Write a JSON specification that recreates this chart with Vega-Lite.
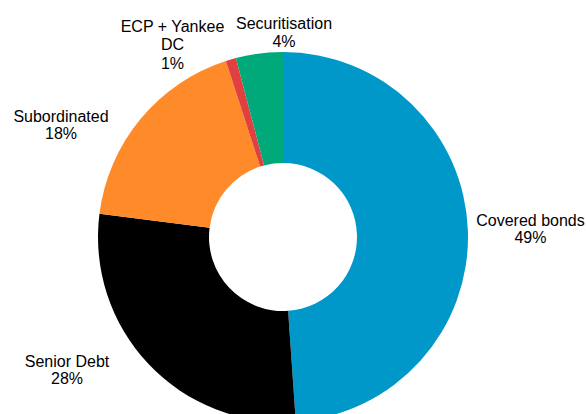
{
  "$schema": "https://vega.github.io/schema/vega-lite/v6.json",
  "autosize": {"type": "none"},
  "padding": {"left": 0, "top": 0, "right": 20, "bottom": 0},
  "width": 566,
  "height": 474,
  "background": "#ffffff",
  "view": {"stroke": null},
  "config": {"text": {"font": "Liberation Sans", "fontSize": 16, "color": "#000000"}},
  "data": {
    "values": [
      {"category": "Covered bonds", "value": 48.9, "order": 1, "label": ["Covered bonds", "49%"]},
      {"category": "Senior Debt", "value": 28.1, "order": 2, "label": ["Senior Debt", "28%"]},
      {"category": "Subordinated", "value": 18.0, "order": 3, "label": ["Subordinated", "18%"]},
      {"category": "ECP + Yankee DC", "value": 0.9, "order": 4, "label": ["ECP + Yankee", "DC", "1%"]},
      {"category": "Securitisation", "value": 4.1, "order": 5, "label": ["Securitisation", "4%"]}
    ]
  },
  "encoding": {
    "theta": {"field": "value", "type": "quantitative", "stack": true},
    "order": {"field": "order", "type": "quantitative"}
  },
  "layer": [
    {
      "mark": {"type": "arc", "outerRadius": 185, "innerRadius": 74},
      "encoding": {
        "color": {
          "field": "category",
          "type": "nominal",
          "scale": {
            "domain": ["Covered bonds", "Senior Debt", "Subordinated", "ECP + Yankee DC", "Securitisation"],
            "range": ["#0098C9", "#000000", "#FF8A2A", "#E04040", "#00A97A"]
          },
          "legend": null
        }
      }
    },
    {
      "mark": {"type": "text", "radius": 248.0, "thetaOffset": -0.031, "align": "center", "baseline": "middle", "lineHeight": 17.6},
      "encoding": {"text": {"condition": {"test": "datum.category === 'Covered bonds'", "field": "label"}, "value": ""}}
    },
    {
      "mark": {"type": "text", "radius": 249.4, "thetaOffset": 0.2335, "align": "center", "baseline": "middle", "lineHeight": 17.2},
      "encoding": {"text": {"condition": {"test": "datum.category === 'Senior Debt'", "field": "label"}, "value": ""}}
    },
    {
      "mark": {"type": "text", "radius": 252.5, "thetaOffset": -0.1946, "align": "center", "baseline": "middle", "lineHeight": 17.6},
      "encoding": {"text": {"condition": {"test": "datum.category === 'Subordinated'", "field": "label"}, "value": ""}}
    },
    {
      "mark": {"type": "text", "radius": 237.6, "thetaOffset": -0.198, "align": "center", "baseline": "middle", "lineHeight": 18.7},
      "encoding": {"text": {"condition": {"test": "datum.category === 'ECP + Yankee DC'", "field": "label"}, "value": ""}}
    },
    {
      "mark": {"type": "text", "radius": 212.7, "thetaOffset": 0.1335, "align": "center", "baseline": "middle", "lineHeight": 17.4},
      "encoding": {"text": {"condition": {"test": "datum.category === 'Securitisation'", "field": "label"}, "value": ""}}
    }
  ]
}
